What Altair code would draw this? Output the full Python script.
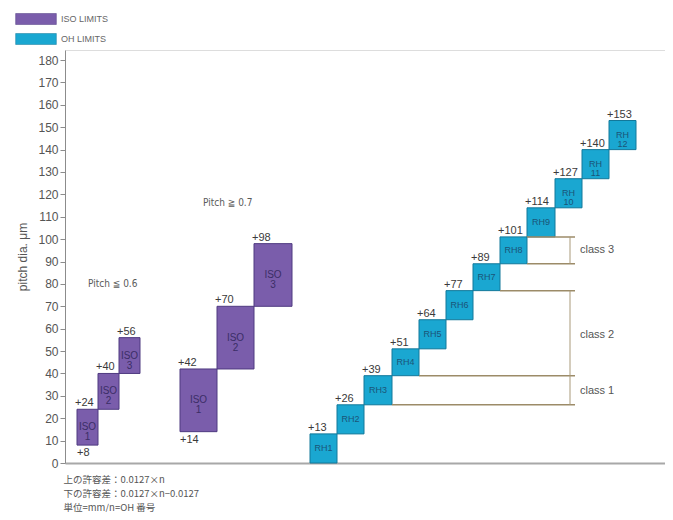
import altair as alt
import pandas as pd

# ---- data ----
iso_small_x0 = [12, 33, 54]
iso_small_x1 = [33, 54, 75]
iso_small_lo = [8, 24, 40]
iso_small_hi = [24, 40, 56]

iso_large_x0 = [115, 152, 189]
iso_large_x1 = [152, 189, 227]
iso_large_lo = [14, 42, 70]
iso_large_hi = [42, 70, 98]

iso_names = ["ISO\n1", "ISO\n2", "ISO\n3"]

rh_x0 = [245, 272, 299, 327, 354, 381, 408, 435, 462, 490, 517, 544]
rh_x1 = [272, 299, 327, 354, 381, 408, 435, 462, 490, 517, 544, 571]
rh_lo = [0, 13, 26, 39, 51, 64, 77, 89, 101, 114, 127, 140]
rh_hi = [13, 26, 39, 51, 64, 77, 89, 101, 114, 127, 140, 153]
rh_names = ["RH1", "RH2", "RH3", "RH4", "RH5", "RH6", "RH7", "RH8", "RH9",
            "RH\n10", "RH\n11", "RH\n12"]

class_line_y = [26, 39, 77, 89, 101]
class_line_x0 = [327, 354, 435, 462, 462]
class_line_x1 = [510, 510, 510, 510, 510]

class_names = ["class 1", "class 2", "class 3"]
class_lo = [26, 39, 89]
class_hi = [39, 77, 101]
class_bracket_x = [505, 505, 505]
class_text_x = [515, 515, 515]
class_text_y = [32, 57, 95]

pitch_texts = ["Pitch \u2266 0.6", "Pitch \u2267 0.7"]
pitch_x = [23, 138]
pitch_y = [80, 116]

y_ticks = list(range(0, 181, 10))

footer_lines = ["上の許容差：0.0127×n",
                "下の許容差：0.0127×n−0.0127",
                "単位=mm/n=OH 番号"]

legend_names = ["ISO LIMITS", "OH LIMITS"]
fill_colors = ["#7A5DAB", "#1AA7D1"]
stroke_colors = ["#4F3A80", "#12789A"]
iso_text_color = "#3A2D66"
rh_text_color = "#1A5578"

# ---- tables ----
rows = []
for i in range(3):
    rows.append(dict(kind="ISO LIMITS", x0=iso_small_x0[i], x1=iso_small_x1[i],
                     lo=iso_small_lo[i], hi=iso_small_hi[i], name=iso_names[i]))
for i in range(3):
    rows.append(dict(kind="ISO LIMITS", x0=iso_large_x0[i], x1=iso_large_x1[i],
                     lo=iso_large_lo[i], hi=iso_large_hi[i], name=iso_names[i]))
for i in range(12):
    rows.append(dict(kind="OH LIMITS", x0=rh_x0[i], x1=rh_x1[i],
                     lo=rh_lo[i], hi=rh_hi[i], name=rh_names[i]))
boxes = pd.DataFrame(rows)
boxes["xm"] = (boxes["x0"] + boxes["x1"]) / 2
boxes["ym"] = (boxes["lo"] + boxes["hi"]) / 2
boxes["top_label"] = "+" + boxes["hi"].astype(str)

bottom = pd.DataFrame(dict(x0=[iso_small_x0[0], iso_large_x0[0]],
                           lo=[iso_small_lo[0], iso_large_lo[0]]))
bottom["label"] = "+" + bottom["lo"].astype(str)

hlines = pd.DataFrame(dict(y=class_line_y, x0=class_line_x0, x1=class_line_x1))
brackets = pd.DataFrame(dict(name=class_names, lo=class_lo, hi=class_hi,
                             x=class_bracket_x, tx=class_text_x, ty=class_text_y))
pitch = pd.DataFrame(dict(text=pitch_texts, x=pitch_x, y=pitch_y))

XS = alt.Scale(domain=[0, 600], nice=False, zero=False)
YS = alt.Scale(domain=[0, 184.5], nice=False, zero=False)

FONT = "Liberation Sans"

x_axis = alt.Axis(labels=False, ticks=False, grid=False, domain=True,
                  domainColor="#A8A8A8", domainWidth=2,
                  title=footer_lines, titleAnchor="start", titleAlign="left",
                  titleBaseline="top", titleX=-2, titleY=11,
                  titleFont="Noto Sans CJK JP", titleFontSize=9.5,
                  titleFontWeight="normal", titleColor="#555555",
                  titleLineHeight=14)
y_axis = alt.Axis(values=y_ticks, tickCount=19, labelOverlap=False, grid=False,
                  domainColor="#8C8C8C", tickColor="#8C8C8C", tickSize=5,
                  labelFont=FONT, labelFontSize=12, labelColor="#555555",
                  labelPadding=2, title="pitch dia. μm", titleFont=FONT,
                  titleFontSize=12, titleFontWeight="normal",
                  titleColor="#555555", titlePadding=8)


def X(field):
    return alt.X(field, scale=XS, axis=x_axis)


def Y(field):
    return alt.Y(field, scale=YS, axis=y_axis)


base = alt.Chart(boxes)

rects = base.mark_rect(strokeWidth=1).encode(
    x=X("x0:Q"),
    x2="x1:Q",
    y=Y("lo:Q"),
    y2="hi:Q",
    color=alt.Color("kind:N",
                    scale=alt.Scale(domain=legend_names, range=fill_colors),
                    legend=alt.Legend(orient="none", legendX=-35, legendY=-37,
                                      title=None, padding=0,
                                      symbolType="M-3.7,-1H3.7V1H-3.7Z",
                                      symbolSize=121, symbolOpacity=1,
                                      symbolStrokeColor="#555577",
                                      symbolStrokeWidth=0.5,
                                      labelFont=FONT, labelFontSize=9,
                                      labelColor="#666666", labelOffset=19,
                                      rowPadding=6)),
    stroke=alt.Stroke("kind:N",
                      scale=alt.Scale(domain=legend_names, range=stroke_colors),
                      legend=None),
)

iso_inner = base.transform_filter(alt.datum.kind == "ISO LIMITS").mark_text(
    font=FONT, fontSize=10, lineBreak="\n", baseline="middle", lineHeight=10,
    color=iso_text_color).encode(
    x=X("xm:Q"), y=Y("ym:Q"), text="name:N")

rh_inner = base.transform_filter(alt.datum.kind == "OH LIMITS").mark_text(
    font=FONT, fontSize=9, lineBreak="\n", baseline="middle", lineHeight=9,
    color=rh_text_color).encode(
    x=X("xm:Q"), y=Y("ym:Q"), text="name:N")

top_labels = base.mark_text(font=FONT, fontSize=11, align="left",
                            baseline="bottom", dx=-2, dy=-1,
                            color="#3A3A3A").encode(
    x=X("x0:Q"), y=Y("hi:Q"), text="top_label:N")

bottom_labels = alt.Chart(bottom).mark_text(font=FONT, fontSize=11, align="left",
                                            baseline="top", dx=0, dy=2,
                                            color="#3A3A3A").encode(
    x=X("x0:Q"), y=Y("lo:Q"), text="label:N")

hrules = alt.Chart(hlines).mark_rule(color="#9C8B68", strokeWidth=1.5).encode(
    x=X("x0:Q"), x2="x1:Q", y=Y("y:Q"))

vrules = alt.Chart(brackets).mark_rule(color="#A99A7A", strokeWidth=1).encode(
    x=X("x:Q"), y=Y("lo:Q"), y2="hi:Q")

class_text = alt.Chart(brackets).mark_text(font=FONT, fontSize=11, align="left",
                                           baseline="middle",
                                           color="#555555").encode(
    x=X("tx:Q"), y=Y("ty:Q"), text="name:N")

pitch_text = alt.Chart(pitch).mark_text(font="DejaVu Sans Condensed", fontSize=10,
                                        align="left", baseline="middle",
                                        color="#5A5A5A").encode(
    x=X("x:Q"), y=Y("y:Q"), text="text:N")

chart = alt.layer(
    rects, hrules, vrules, iso_inner, rh_inner, top_labels, bottom_labels,
    class_text, pitch_text
).properties(
    width=600, height=413,
    autosize=alt.AutoSizeParams(type="none"),
    padding={"left": 57, "top": 42, "right": 0, "bottom": 49},
).configure_view(
    fill="#FBE4B4", stroke=None
).configure(background="white")

chart.save("out.html", embed_options={"renderer": "svg", "actions": False})
